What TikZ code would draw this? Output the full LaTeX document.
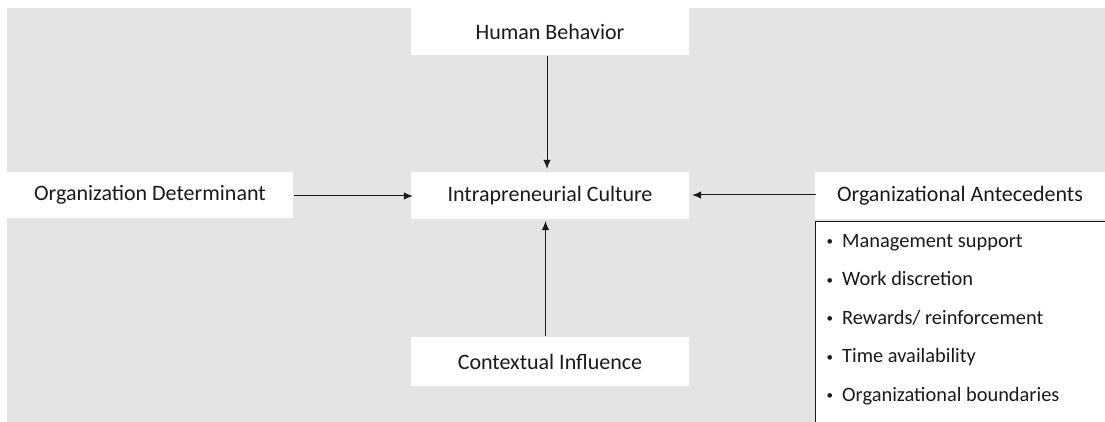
\documentclass[tikz,border=0pt]{standalone}
\usepackage{fontspec}
\setmainfont{Carlito}
\usetikzlibrary{arrows.meta}
\definecolor{bg}{HTML}{E4E4E4}
\definecolor{ln}{HTML}{1A1A1A}
\newcommand{\mybul}{\llap{\raisebox{1.5pt}{\fontsize{13}{13}\selectfont •}\hspace{9pt}}}
\tikzset{
  box/.style={fill=white, draw=none, inner sep=0pt, font=\fontsize{22}{26}\selectfont, text=ln},
  arr/.style={draw=ln, line width=1pt, -{Latex[length=9pt,width=7.5pt]}},
  item/.style={anchor=base west, inner sep=0pt, font=\fontsize{20.4}{24}\selectfont, text=ln},
}
\begin{document}
\begin{tikzpicture}[x=1pt,y=-1pt]
\useasboundingbox (0,0) rectangle (1105,422);
\fill[white] (0,0) rectangle (1105,422);
\fill[bg] (7,8) rectangle (1105,422);
\node[box, minimum width=286pt, minimum height=46pt] (od) at (150,195) {Organization Determinant};
\node[box, minimum width=278pt, minimum height=47pt] (hb) at (550,31.5) {Human Behavior};
\node[box, minimum width=278pt, minimum height=47pt] (ic) at (550,195.5) {Intrapreneurial Culture};
\node[box, minimum width=278pt, minimum height=49pt] (ci) at (550,361.5) {Contextual Influence};
\node[box, minimum width=290pt, minimum height=47pt] (oa) at (960,195.5) {Organizational Antecedents};
\fill[white] (815,221) rectangle (1105,422);
\draw[ln, line width=0.9pt] (1105,221) -- (815,221) -- (815,422);
\node[item] (b1) at (842,247) {\mybul Management support};
\node[item] (b2) at (842,285.5) {\mybul Work discretion};
\node[item] (b3) at (842,324) {\mybul Rewards/ reinforcement};
\node[item] (b4) at (842,362.5) {\mybul Time availability};
\node[item] (b5) at (842,401) {\mybul Organizational boundaries};
\draw[arr] ([xshift=-3pt,yshift=-1pt]hb.south) -- ([xshift=-3pt,yshift=3pt]ic.north);
\draw[arr] ([xshift=-4.5pt,yshift=1pt]ci.north) -- ([xshift=-4.5pt,yshift=-2pt]ic.south);
\draw[arr] ([xshift=1pt,yshift=-1pt]od.east) -- ([xshift=2pt,yshift=-0.5pt]ic.west);
\draw[arr] ([xshift=1pt,yshift=0.5pt]oa.west) -- ([xshift=3pt,yshift=0.5pt]ic.east);
\end{tikzpicture}
\end{document}
